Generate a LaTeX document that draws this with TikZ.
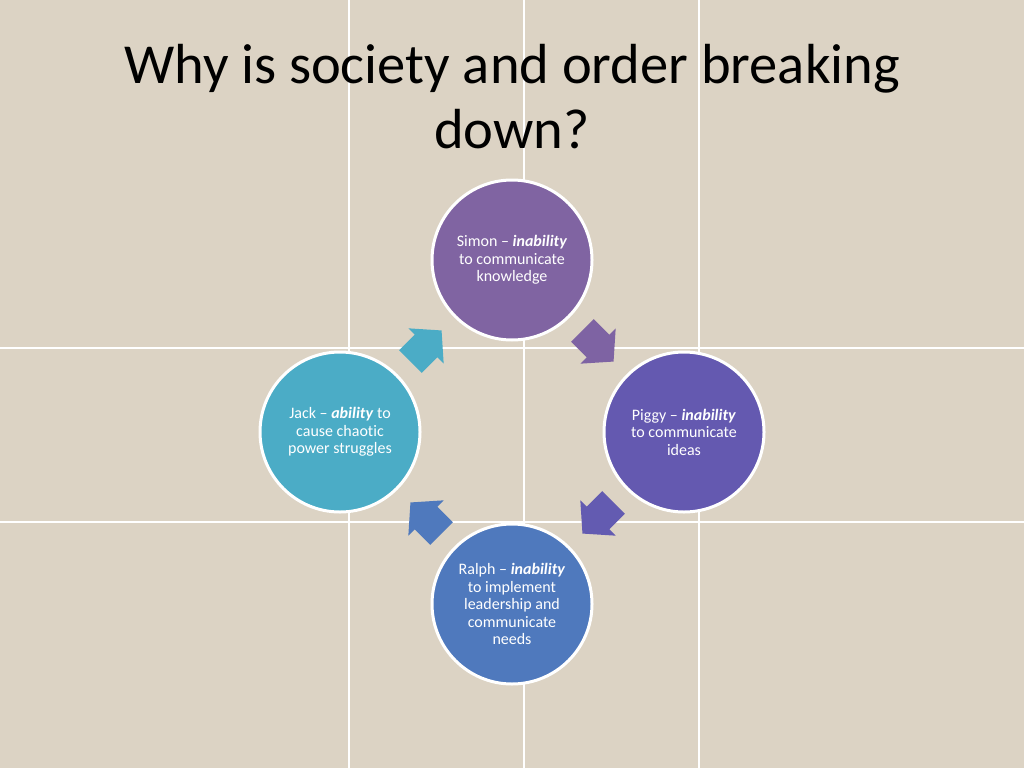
\documentclass[tikz,border=0pt]{standalone}
\usepackage{fontspec}
\setmainfont{Carlito}[Ligatures={NoCommon}]
\usepackage{tikz}
\usetikzlibrary{calc}

\definecolor{paper}{HTML}{DCD3C4}
\definecolor{simoncol}{HTML}{8064A2}
\definecolor{piggycol}{HTML}{6459B0}
\definecolor{ralphcol}{HTML}{4F79BD}
\definecolor{jackcol}{HTML}{4BACC6}

\tikzset{
  person/.style={circle, draw=white, line width=3pt, minimum size=160pt,
    inner sep=0pt, text=white, align=center,
    font=\fontsize{16}{17.5}\selectfont},
}

% block arrow between two circles
\newcommand{\cyclearrow}[3]{%
  \begin{scope}[shift={(#1)},rotate=#2]
    \fill[#3] (-22,-16) -- (0,-16) -- (0,-25) -- (22,0) -- (0,25) -- (0,16) -- (-22,16) -- cycle;
  \end{scope}}

\begin{document}
\begin{tikzpicture}[x=1pt,y=-1pt]
    % Background
    \fill[paper] (0,0) rectangle (1024,768);
    \useasboundingbox (0,0) rectangle (1024,768);
    % Grid
    \foreach \x in {349,524,699}
      \draw[white,line width=1.5pt] (\x,0) -- (\x,768);
    \foreach \y in {348,522}
      \draw[white,line width=1.5pt] (0,\y) -- (1024,\y);
    % Title
    \node[font=\fontsize{56.5}{65}\selectfont, align=center] (title) at (512,97)
      {Why is society and order breaking\\down?};
    % Circles
    \node[person, fill=simoncol] (simon) at (512,260)
      {Simon -- \textbf{\textit{inability}}\\to communicate\\knowledge};
    \node[person, fill=piggycol] (piggy) at (684,432)
      {Piggy -- \textbf{\textit{inability}}\\to communicate\\ideas};
    \node[person, fill=ralphcol] (ralph) at (512,604)
      {Ralph -- \textbf{\textit{inability}}\\to implement\\leadership and\\communicate\\needs};
    \node[person, fill=jackcol] (jack) at (340,432)
      {Jack -- \textbf{\textit{ability}} to\\cause chaotic\\power struggles};
    % Arrows
    \coordinate (sp) at ($(simon)!0.5!(piggy)$);
    \coordinate (pr) at ($(piggy)!0.5!(ralph)$);
    \coordinate (rj) at ($(ralph)!0.5!(jack)$);
    \coordinate (js) at ($(jack)!0.5!(simon)$);
    \cyclearrow{sp}{-45}{simoncol!95!piggycol}
    \cyclearrow{pr}{-135}{piggycol!95!ralphcol}
    \cyclearrow{rj}{135}{ralphcol}
    \cyclearrow{js}{45}{jackcol}
  \end{tikzpicture}
\end{document}
